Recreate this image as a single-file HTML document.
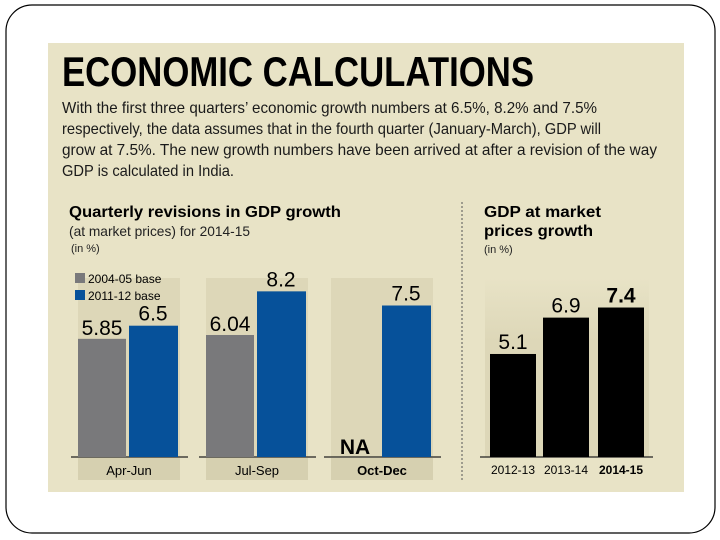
<!DOCTYPE html>
<html><head><meta charset="utf-8"><style>
html,body{margin:0;padding:0;background:#fff;width:720px;height:540px;overflow:hidden}
svg{display:block;font-family:"Liberation Sans",sans-serif}
</style></head><body>
<svg width="720" height="540" viewBox="0 0 720 540">
<rect x="6" y="5" width="709" height="528" rx="26" fill="#fff" stroke="#000" stroke-width="1.2"/>
<rect x="48" y="43" width="636" height="449" fill="#e8e3c6"/>
<text x="62" y="86" font-size="42" font-weight="bold" textLength="472" lengthAdjust="spacingAndGlyphs">ECONOMIC CALCULATIONS</text>
<g font-size="16" fill="#1a1a1a">
<text x="62" y="113" textLength="535" lengthAdjust="spacingAndGlyphs">With the first three quarters’ economic growth numbers at 6.5%, 8.2% and 7.5%</text>
<text x="62" y="134" textLength="539" lengthAdjust="spacingAndGlyphs">respectively, the data assumes that in the fourth quarter (January-March), GDP will</text>
<text x="62" y="155" textLength="595" lengthAdjust="spacingAndGlyphs">grow at 7.5%. The new growth numbers have been arrived at after a  revision of the way</text>
<text x="62" y="176" textLength="172" lengthAdjust="spacingAndGlyphs">GDP is calculated in India.</text>
</g>
<text x="69" y="217" font-size="16" font-weight="bold" textLength="272" lengthAdjust="spacingAndGlyphs">Quarterly revisions in GDP growth</text>
<text x="69" y="236" font-size="14" fill="#222" textLength="181" lengthAdjust="spacingAndGlyphs">(at market prices) for 2014-15</text>
<text x="71" y="252" font-size="11" fill="#222">(in %)</text>
<line x1="462" y1="202" x2="462" y2="482" stroke="#555" stroke-width="1" stroke-dasharray="2,2"/>
<text x="484" y="217" font-size="16" font-weight="bold" textLength="117" lengthAdjust="spacingAndGlyphs">GDP at market</text>
<text x="484" y="236" font-size="16" font-weight="bold" textLength="109" lengthAdjust="spacingAndGlyphs">prices growth</text>
<text x="484" y="253" font-size="11" fill="#222">(in %)</text>
<defs><linearGradient id="fade" x1="0" y1="0" x2="0" y2="1"><stop offset="0" stop-color="#e8e3c6"/><stop offset="0.35" stop-color="#ddd7b8"/><stop offset="1" stop-color="#ddd7b8"/></linearGradient></defs>
<g id="left"></g><g id="right"></g>
</svg>
<script>
const quarters=["Apr-Jun","Jul-Sep","Oct-Dec"];
const base0405=[5.85,6.04,null];
const base1112=[6.5,8.2,7.5];
const label0405=["5.85","6.04","NA"];
const label1112=["6.5","8.2","7.5"];
const years=["2012-13","2013-14","2014-15"];
const gdp=[5.1,6.9,7.4];
const gdpLabels=["5.1","6.9","7.4"];
const NS="http://www.w3.org/2000/svg";
const base=457, ppu=20.2;
function y(v){return base-v*ppu;}
function mk(parent,tag,attrs,text){const e=document.createElementNS(NS,tag);for(const k in attrs)e.setAttribute(k,attrs[k]);if(text!=null)e.textContent=text;parent.appendChild(e);return e;}
const L=document.getElementById('left');
const groupX=[78,206,331];
quarters.forEach((q,i)=>{
  const gx=groupX[i];
  const strip=mk(L,'rect',{x:gx,y:278,width:102,height:179,fill:'#ddd7b8'});
  
  
  const ls=mk(L,'rect',{x:gx,y:458,width:102,height:22,fill:'#d6d0b0'});
  
  
  const bl=mk(L,'line',{x1:gx-7,y1:base,x2:gx+110,y2:base,stroke:'#222','stroke-width':1.2});
  
  
  const t=mk(L,'text',{x:gx+51,y:475,'font-size':13,'text-anchor':'middle','font-weight':i==2?'bold':'normal'},q);
  
  
  if(base0405[i]!=null){
    const b=mk(L,'rect',{x:gx,y:y(base0405[i]),width:48,height:base-y(base0405[i]),fill:'#79797b'});
    
    
    const v=mk(L,'text',{x:gx+24,y:y(base0405[i])-4,'font-size':21,'text-anchor':'middle'},label0405[i]);
    
    
  } else {
    const v=mk(L,'text',{x:gx+24,y:base-3,'font-size':21,'font-weight':'bold','text-anchor':'middle'},label0405[i]);
    
    
  }
  const b2=mk(L,'rect',{x:gx+51,y:y(base1112[i]),width:49,height:base-y(base1112[i]),fill:'#06519a'});
  
  
  const v2=mk(L,'text',{x:gx+75,y:y(base1112[i])-5,'font-size':21,'text-anchor':'middle'},label1112[i]);
  
  
});
const lg1=mk(L,'rect',{x:75,y:273,width:10,height:10,fill:'#79797b'});


const lt1=mk(L,'text',{x:88,y:283,'font-size':12},'2004-05 base');


const lg2=mk(L,'rect',{x:75,y:290,width:10,height:10,fill:'#06519a'});


const lt2=mk(L,'text',{x:88,y:300,'font-size':12},'2011-12 base');


const R=document.getElementById('right');
const rx=[490,543,598];
years.forEach((yr,i)=>{
  const s=mk(R,'rect',{x:rx[i]-5,y:278,width:56,height:179,fill:'url(#fade)'});
  
  
});
const rb=mk(R,'line',{x1:480,y1:base,x2:653,y2:base,stroke:'#222','stroke-width':1.2});


years.forEach((yr,i)=>{
  const b=mk(R,'rect',{x:rx[i],y:y(gdp[i]),width:46,height:base-y(gdp[i]),fill:'#000'});
  
  
  const last=i==years.length-1;
  const v=mk(R,'text',{x:rx[i]+23,y:y(gdp[i])-5,'font-size':21,'text-anchor':'middle','font-weight':last?'bold':'normal'},gdpLabels[i]);
  
  
  const t=mk(R,'text',{x:rx[i]+23,y:474,'font-size':12,'text-anchor':'middle','font-weight':last?'bold':'normal'},yr);
  
  
});
</script>
</body></html>
